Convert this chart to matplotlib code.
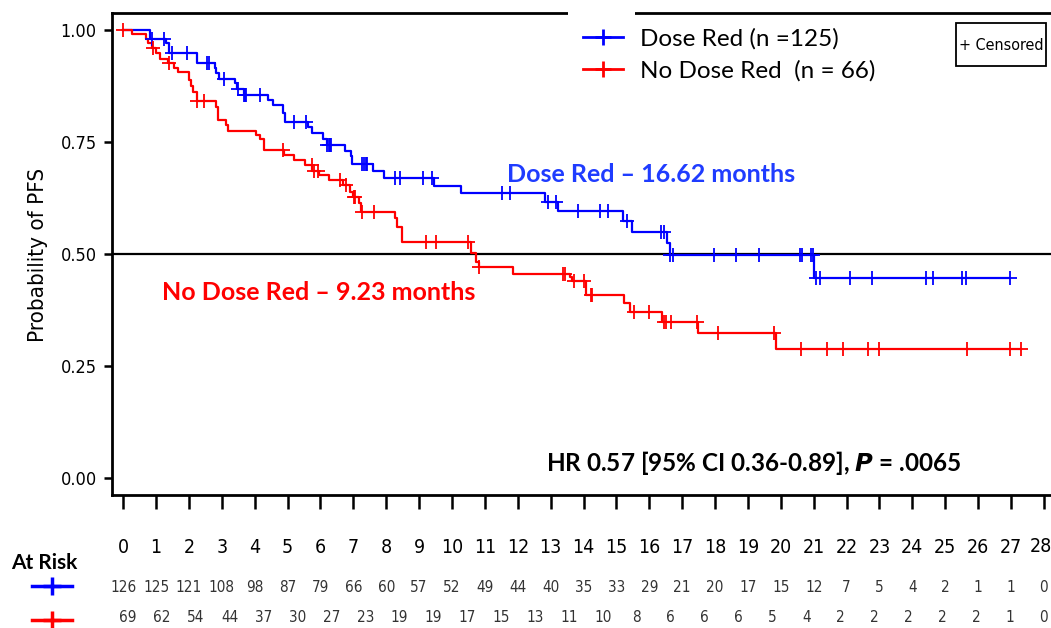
import numpy as np
import matplotlib
matplotlib.use("Agg")
import matplotlib.pyplot as plt
from matplotlib.lines import Line2D
from matplotlib.patches import Rectangle
from matplotlib.transforms import blended_transform_factory, offset_copy

# Kaplan-Meier steps (months, survival after the drop)
dose_t = [0, 0.81, 1.29, 1.40, 2.25, 2.79, 2.82, 2.92, 3.40, 3.46, 3.66, 4.39, 4.57,
          4.86, 4.91, 5.63, 5.75, 6.09, 6.20, 6.76, 6.93, 6.96, 7.60, 7.93, 9.45,
          10.28, 12.83, 13.22, 15.19, 15.46, 16.53, 16.62, 21.01]
dose_s = [1.0, 0.979, 0.970, 0.948, 0.926, 0.915, 0.903, 0.891, 0.881, 0.868, 0.856,
          0.844, 0.832, 0.815, 0.795, 0.783, 0.770, 0.756, 0.743, 0.731, 0.719, 0.701,
          0.685, 0.670, 0.653, 0.636, 0.617, 0.596, 0.575, 0.550, 0.524, 0.498, 0.447]
dose_end = 26.97
dose_cens = [0.87, 1.24, 1.47, 1.93, 2.56, 2.60, 3.07, 3.49, 3.66, 3.70, 3.73, 4.17,
             5.21, 5.56, 6.21, 6.25, 6.29, 6.32, 7.25, 7.31, 7.37, 7.43, 8.28, 8.41,
             9.11, 9.40, 11.53, 11.76, 12.92, 13.15, 13.83, 14.50, 14.73, 15.31, 16.35,
             16.44, 16.62, 16.73, 17.96, 18.64, 19.35, 20.59, 20.65, 20.92, 20.98, 21.07,
             21.18, 22.09, 22.77, 24.40, 24.63, 25.50, 25.64, 26.96]

nodose_t = [0, 0.26, 0.68, 0.74, 0.87, 1.00, 1.12, 1.37, 1.54, 1.66, 2.01, 2.05, 2.13,
            2.24, 2.83, 2.89, 3.13, 3.18, 4.04, 4.17, 4.27, 4.90, 5.18, 5.54, 5.74,
            5.94, 6.25, 6.70, 6.91, 6.98, 7.16, 7.24, 8.28, 8.33, 8.48, 10.58, 10.72,
            10.82, 11.86, 13.59, 13.66, 14.09, 15.24, 15.41, 16.38, 17.49, 19.86]
nodose_s = [1.0, 0.990, 0.979, 0.970, 0.959, 0.948, 0.936, 0.926, 0.915, 0.906, 0.888,
            0.874, 0.862, 0.842, 0.829, 0.799, 0.788, 0.775, 0.766, 0.756, 0.732, 0.721,
            0.710, 0.699, 0.686, 0.677, 0.665, 0.654, 0.639, 0.628, 0.613, 0.595, 0.580,
            0.561, 0.528, 0.502, 0.483, 0.471, 0.456, 0.448, 0.439, 0.408, 0.390, 0.370,
            0.349, 0.325, 0.288]
nodose_end = 27.29
nodose_cens = [0, 0.91, 1.40, 2.24, 2.46, 4.86, 5.73, 5.79, 5.91, 6.58, 6.78, 7.01, 7.06,
               7.26, 7.64, 9.22, 9.50, 10.49, 10.82, 13.39, 13.44, 13.71, 14.02, 14.22,
               14.27, 15.54, 16.00, 16.45, 16.51, 16.66, 17.44, 18.08, 19.79, 20.62,
               21.40, 21.89, 22.65, 23.00, 25.65, 26.96, 27.29]

months = list(range(0, 29))
risk_dose = [126, 125, 121, 108, 98, 87, 79, 66, 60, 57, 52, 49, 44, 40, 35, 33, 29,
             21, 20, 17, 15, 12, 7, 5, 4, 2, 1, 1, 0]
risk_nodose = [69, 62, 54, 44, 37, 30, 27, 23, 19, 19, 17, 15, 13, 11, 10, 8, 6, 6, 6,
               5, 4, 2, 2, 2, 2, 2, 1, 0]

yticks = [0.0, 0.25, 0.5, 0.75, 1.0]

BLUE = "#0000ff"
RED = "#ff0000"
SANS = ["Lato", "DejaVu Sans"]
NARROW = dict(fontfamily="DejaVu Sans", fontstretch="condensed")


def km_curve(ax, t, s, t_end, cens, color):
    tt = list(t) + [t_end]
    ss = list(s) + [s[-1]]
    ax.step(tt, ss, where="post", color=color, lw=1.6, zorder=3)
    idx = np.searchsorted(t, cens, side="right") - 1
    ax.plot(cens, np.asarray(s)[idx], ls="none", marker="+", ms=10, mew=1.3,
            color=color, zorder=4)


fig = plt.figure(figsize=(10.51, 6.28), dpi=100)
ax = fig.add_axes([112 / 1051, 1 - 495 / 628, 1 - 112 / 1051 + 0.002, (495 - 13) / 628])

km_curve(ax, dose_t, dose_s, dose_end, dose_cens, BLUE)
km_curve(ax, nodose_t, nodose_s, nodose_end, nodose_cens, RED)
ax.axhline(0.5, color="black", lw=1.6, zorder=2)

ax.set_xlim(-0.34, 28.28)
ax.set_ylim(-0.0373, 1.0379)
ax.set_xticks(months)
# the last month label sits against the right edge, drawn separately below
ax.set_xticklabels([str(m) for m in months[:-1]] + [""], fontsize=14, **NARROW)
ax.set_yticks(yticks)
ax.set_yticklabels(["%.2f" % v for v in yticks], fontsize=13, **NARROW)
ax.tick_params(axis="x", direction="out", length=10, width=1.8, pad=21)
ax.tick_params(axis="y", direction="out", length=6, width=1.8, pad=5)
for side in ("left", "bottom", "top"):
    ax.spines[side].set_linewidth(2.0)
ax.spines["right"].set_visible(False)

trans = blended_transform_factory(ax.transData, fig.transFigure)
ax.text(months[-1], 1 - 546 / 628, str(months[-1]), ha="center", va="center",
        fontsize=14, transform=offset_copy(trans, fig=fig, x=-3, units="dots"),
        clip_on=False, **NARROW)

fig.text(38 / 1051, 1 - 255 / 628, "Probability of PFS", rotation=90, ha="center",
         va="center", fontsize=16, **NARROW)

# median annotations and hazard ratio
ax.text(16.05, 0.678, "Dose Red \u2013 16.62 months", color="#1f3cff", fontsize=18,
        fontweight="bold", fontfamily=SANS, ha="center", va="center")
ax.text(5.95, 0.414, "No Dose Red \u2013 9.23 months", color=RED, fontsize=18,
        fontweight="bold", fontfamily=SANS, ha="center", va="center")
ax.text(19.18, 0.034, r"HR 0.57 [95% CI 0.36-0.89], $\mathbfit{P}$ = .0065", color="black",
        fontsize=17.5, fontweight="bold", fontfamily=SANS, ha="center", va="center")

# legend
handles = [Line2D([], [], color=BLUE, lw=2, marker="+", ms=12, mew=2),
           Line2D([], [], color=RED, lw=2, marker="+", ms=12, mew=2)]
leg = ax.legend(handles, ["Dose Red (n =125)", "No Dose Red  (n = 66)"],
                loc="upper left", bbox_to_anchor=(566 / 1051, 1 - 11 / 628),
                bbox_transform=fig.transFigure, frameon=False,
                prop={"family": SANS, "size": 17.5}, handlelength=1.65,
                handletextpad=0.7, labelspacing=0.45, borderpad=0.2)

# "+ Censored" key box
fig.add_artist(Rectangle((956 / 1051, 1 - 66 / 628), 90 / 1051, 43 / 628,
                         transform=fig.transFigure, fc="white", ec="black", lw=1.3))
fig.text(1001 / 1051, 1 - 45 / 628, "+ Censored", ha="center", va="center",
         fontsize=11.5, **NARROW)

# gap in the top frame behind the legend
fig.add_artist(Rectangle((568 / 1051, 1 - 17 / 628), 67 / 1051, 8 / 628,
                         transform=fig.transFigure, fc="white", ec="none", zorder=10))

# number at risk table
fig.text(44 / 1051, 1 - 563 / 628, "At Risk", ha="center", va="center",
         fontfamily=SANS, fontweight="bold", fontsize=15)
for yy, col in ((586, BLUE), (620, RED)):
    fig.add_artist(Line2D([32 / 1051, 72 / 1051], [1 - yy / 628] * 2, color=col, lw=2.5,
                          transform=fig.transFigure))
    fig.add_artist(Line2D([52 / 1051], [1 - yy / 628], color=col, marker="+", ms=13,
                          mew=2.5, transform=fig.transFigure))
for m, n in zip(months, risk_dose):
    ax.text(m, 1 - 588 / 628, str(n), transform=trans, ha="center", va="center",
            fontsize=11, color="#333333", **NARROW)
red_pos = np.linspace(0.15, 28.0, len(risk_nodose))
for m, n in zip(red_pos, risk_nodose):
    ax.text(m, 1 - 618 / 628, str(n), transform=trans, ha="center", va="center",
            fontsize=11, color="#333333", **NARROW)

fig.savefig("out.png", dpi=100)
